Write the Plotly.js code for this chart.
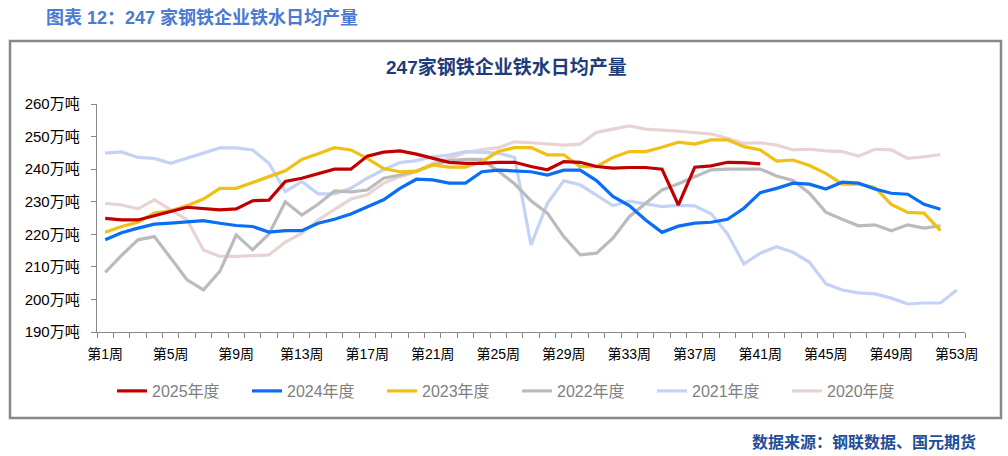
<!DOCTYPE html>
<html>
<head>
<meta charset="utf-8">
<script src="https://cdn.plot.ly/plotly-3.0.1.min.js"></script>
<style>
html,body{margin:0;padding:0;background:#fff;}
#chart{width:1008px;height:456px;}
</style>
</head>
<body>
<div id="chart"></div>
<script>
const weeks = [1,2,3,4,5,6,7,8,9,10,11,12,13,14,15,16,17,18,19,20,21,22,23,24,25,26,27,28,29,30,31,32,33,34,35,36,37,38,39,40,41,42,43,44,45,46,47,48,49,50,51,52,53];
const tickWeeks = [1,5,9,13,17,21,25,29,33,37,41,45,49,53];
const tickLabels = ["第1周","第5周","第9周","第13周","第17周","第21周","第25周","第29周","第33周","第37周","第41周","第45周","第49周","第53周"];
const seriesNames = ["2025年度","2024年度","2023年度","2022年度","2021年度","2020年度"];

const y2025 = [224.9,224.4,224.4,225.6,227.0,228.3,228.0,227.5,227.8,230.3,230.5,236.2,237.2,238.5,240.0,240.0,244.0,245.2,245.6,244.6,243.3,242.1,241.8,241.8,242.1,242.1,240.8,239.8,242.3,242.1,240.8,240.3,240.5,240.5,240.0,229.0,240.6,241.0,242.1,242.0,241.6];
const y2024 = [218.3,220.5,221.9,223.1,223.4,223.9,224.2,223.4,222.7,222.4,220.7,221.1,221.1,223.4,224.6,226.2,228.5,230.6,234.1,236.9,236.7,235.7,235.7,239.2,239.7,239.4,239.2,238.2,239.7,239.7,236.5,231.6,228.8,224.4,220.6,222.5,223.4,223.7,224.6,228.0,232.8,234.1,235.7,235.4,233.9,236.0,235.7,233.9,232.6,232.3,229.2,227.7];
const y2023 = [220.6,222.4,223.7,226.5,227.2,228.8,230.8,234.1,234.1,236.0,237.7,239.5,243.0,244.7,246.6,245.9,243.3,240.2,239.2,239.4,241.3,240.6,240.6,242.3,245.4,246.6,246.6,244.4,244.4,240.8,240.8,243.6,245.4,245.4,246.7,248.3,247.7,249.0,249.0,246.9,245.9,242.5,242.8,241.1,238.7,235.4,235.4,234.4,229.2,226.7,226.5,221.1];
const y2022 = [208.3,213.5,218.3,219.3,212.7,206.0,202.9,208.6,219.8,215.2,220.1,230.0,225.9,229.2,233.3,233.0,233.6,237.2,238.2,239.4,241.3,242.6,243.0,243.0,239.4,235.5,230.3,226.5,219.3,213.7,214.2,218.8,225.4,229.5,233.6,235.5,237.7,239.8,240.0,240.0,240.0,237.9,236.5,232.6,226.8,224.6,222.6,222.9,221.1,222.9,221.9,222.6];
const y2021 = [244.9,245.3,243.6,243.3,241.8,243.3,244.9,246.5,246.5,245.9,241.8,233.1,236.2,232.4,232.4,234.1,237.2,239.8,242.0,242.6,243.8,244.3,245.4,245.1,244.9,243.6,216.7,229.5,236.4,235.2,232.1,228.8,230.2,229.3,228.5,228.9,228.7,226.3,220.1,210.9,214.2,216.2,214.5,211.4,204.8,202.9,202.0,201.7,200.4,198.6,198.9,198.9,202.9];
const y2020 = [229.5,229.0,227.8,230.6,227.5,224.4,215.2,213.2,213.2,213.5,213.7,217.6,220.3,224.4,227.5,230.8,232.1,235.7,237.7,239.2,241.8,243.3,245.1,246.0,246.6,248.4,248.1,247.7,247.4,247.7,251.3,252.3,253.3,252.3,252.1,251.7,251.2,250.8,249.5,247.9,248.1,247.4,245.9,246.1,245.6,245.4,244.0,246.1,245.9,243.3,243.8,244.5];

const colors = ["#C00000","#0A6EF5","#F0C015","#BBBBBB","#C3D2F5","#E8D3D3"];
const values = [y2025,y2024,y2023,y2022,y2021,y2020];

const traces = [];
for (let i = values.length - 1; i >= 0; i--) {
  traces.push({
    type: 'scatter', mode: 'lines',
    name: seriesNames[i],
    x: weeks.slice(0, values[i].length),
    y: values[i],
    line: {color: colors[i], width: 3.2},
    hoverinfo: 'skip'
  });
}

const W = 868, H = 228, L = 97, T = 104;
function px(xp){ return (xp - L) / W; }
function py(yp){ return (T + H - yp) / H; }

const cjk = '"Liberation Sans", "Noto Sans CJK SC", sans-serif';

const layout = {
  width: 1008, height: 456,
  paper_bgcolor: '#ffffff', plot_bgcolor: '#ffffff',
  margin: {l: L, r: 1008 - L - W, t: T, b: 456 - T - H, pad: 0},
  showlegend: true,
  font: {family: cjk, color: '#000'},
  xaxis: {
    range: [0.5, 53.5], fixedrange: true,
    tickmode: 'array', tickvals: tickWeeks, ticktext: tickLabels,
    ticks: '', showgrid: false, zeroline: false,
    showline: true, linecolor: '#888888', linewidth: 1.3,
    tickfont: {size: 14, color: '#000'},
    ticklabelstandoff: 9,
    minor: {tick0: 0.5, dtick: 1, ticks: 'outside', ticklen: 5, tickcolor: '#888888', tickwidth: 1, showgrid: false}
  },
  yaxis: {
    range: [190, 260], fixedrange: true, dtick: 10, tick0: 190,
    ticksuffix: '万吨',
    ticks: 'outside', ticklen: 5, tickcolor: '#888888', tickwidth: 1,
    showgrid: false, zeroline: false,
    showline: true, linecolor: '#888888', linewidth: 1.3,
    tickfont: {size: 15, color: '#000'},
    ticklabelstandoff: 8
  },
  legend: {
    orientation: 'h', traceorder: 'reversed',
    x: px(112), xanchor: 'left', y: py(391), yanchor: 'middle',
    entrywidth: 90, entrywidthmode: 'pixels',
    font: {size: 16, color: '#808080'},
    bgcolor: 'rgba(0,0,0,0)'
  },
  shapes: [{
    type: 'rect', xref: 'paper', yref: 'paper',
    x0: px(10), x1: px(1001), y0: py(418), y1: py(41),
    line: {color: '#888888', width: 2.5}, fillcolor: 'rgba(0,0,0,0)', layer: 'below'
  }],
  annotations: [
    {text: '<b>图表 12：247 家钢铁企业铁水日均产量</b>', xref: 'paper', yref: 'paper',
     x: px(44), y: py(18), xanchor: 'left', yanchor: 'middle', showarrow: false,
     font: {size: 18, color: '#4A7BD0', family: cjk}},
    {text: '<b>247家钢铁企业铁水日均产量</b>', xref: 'paper', yref: 'paper',
     x: px(506), y: py(67), xanchor: 'center', yanchor: 'middle', showarrow: false,
     font: {size: 19, color: '#1F3C7A', family: cjk}},
    {text: '<b>数据来源：钢联数据、国元期货</b>', xref: 'paper', yref: 'paper',
     x: px(978), y: py(442), xanchor: 'right', yanchor: 'middle', showarrow: false,
     font: {size: 16, color: '#1F4E9A', family: cjk}}
  ]
};

Plotly.newPlot('chart', traces, layout, {displayModeBar: false, staticPlot: true});
</script>
</body>
</html>
